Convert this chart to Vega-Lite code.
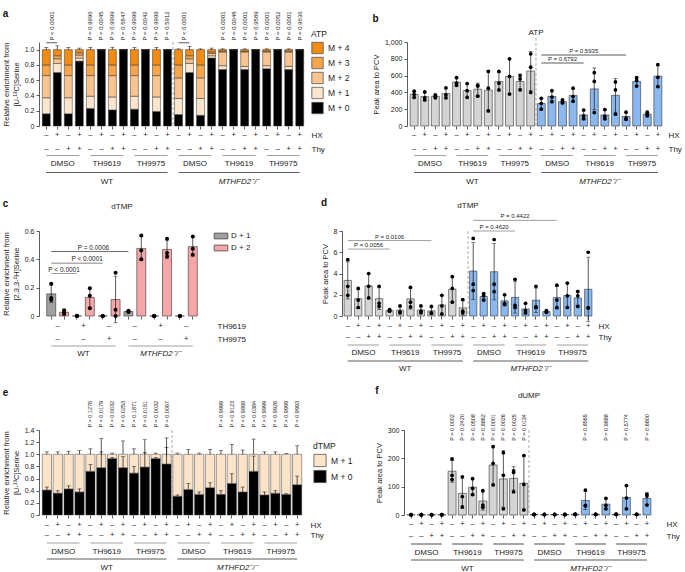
{
"$schema":"https://vega.github.io/schema/vega-lite/v6.json",
"padding":{"left":2,"top":9,"right":0,"bottom":0},
"config":{"font":"Liberation Sans","view":{"stroke":null},
"axis":{"labelFontSize":7,"titleFontSize":7.5,"titleFontWeight":"normal","labelColor":"#222","titleColor":"#222","domainColor":"#333","tickColor":"#333","tickSize":3,"domainWidth":0.8,"tickWidth":0.8,"grid":false,"labelPadding":2,"titlePadding":4,"labelOverlap":false},
"legend":{"labelFontSize":8,"titleFontSize":8,"titleFontWeight":"normal","labelColor":"#222","titleColor":"#222"},
"title":{"fontSize":10,"fontWeight":"bold","color":"#111","anchor":"start","frame":"bounds"},
"text":{"color":"#222"}},
"datasets":{
"c24":[{"c":1,"hx":"–","thy":"–"},{"c":2,"hx":"+","thy":"–"},{"c":3,"hx":"–","thy":"+"},{"c":4,"hx":"+","thy":"+"},{"c":5,"hx":"–","thy":"–"},{"c":6,"hx":"+","thy":"–"},{"c":7,"hx":"–","thy":"+"},{"c":8,"hx":"+","thy":"+"},{"c":9,"hx":"–","thy":"–"},{"c":10,"hx":"+","thy":"–"},{"c":11,"hx":"–","thy":"+"},{"c":12,"hx":"+","thy":"+"},{"c":13,"hx":"–","thy":"–"},{"c":14,"hx":"+","thy":"–"},{"c":15,"hx":"–","thy":"+"},{"c":16,"hx":"+","thy":"+"},{"c":17,"hx":"–","thy":"–"},{"c":18,"hx":"+","thy":"–"},{"c":19,"hx":"–","thy":"+"},{"c":20,"hx":"+","thy":"+"},{"c":21,"hx":"–","thy":"–"},{"c":22,"hx":"+","thy":"–"},{"c":23,"hx":"–","thy":"+"},{"c":24,"hx":"+","thy":"+"}],
"g24":[{"g":"DMSO","s":1,"e":4,"m":2},{"g":"TH9619","s":5,"e":8,"m":6},{"g":"TH9975","s":9,"e":12,"m":10},{"g":"DMSO","s":13,"e":16,"m":14},{"g":"TH9619","s":17,"e":20,"m":18},{"g":"TH9975","s":21,"e":24,"m":22}],
"w24":[{"g":"WT","s":1,"e":12,"m":6},{"g":"MTHFD2⁻/⁻","s":13,"e":24,"m":18}],
"aS":[{"c":1,"m0":0.16,"m1":0.21,"m2":0.29,"m3":0.14,"m4":0.20,"hi":1.03},{"c":2,"m0":0.70,"m1":0.12,"m2":0.06,"m3":0.04,"m4":0.08,"hi":1.05},{"c":3,"m0":0.16,"m1":0.21,"m2":0.29,"m3":0.14,"m4":0.20,"hi":1.03},{"c":4,"m0":0.85,"m1":0.04,"m2":0.04,"m3":0.03,"m4":0.04,"hi":1.02},{"c":5,"m0":0.23,"m1":0.16,"m2":0.27,"m3":0.14,"m4":0.20,"hi":1.03},{"c":6,"m0":1,"m1":0,"m2":0,"m3":0,"m4":0,"hi":null},{"c":7,"m0":0.21,"m1":0.17,"m2":0.28,"m3":0.14,"m4":0.20,"hi":1.03},{"c":8,"m0":1,"m1":0,"m2":0,"m3":0,"m4":0,"hi":null},{"c":9,"m0":0.22,"m1":0.17,"m2":0.27,"m3":0.14,"m4":0.20,"hi":1.03},{"c":10,"m0":1,"m1":0,"m2":0,"m3":0,"m4":0,"hi":null},{"c":11,"m0":0.19,"m1":0.19,"m2":0.28,"m3":0.14,"m4":0.20,"hi":1.03},{"c":12,"m0":1,"m1":0,"m2":0,"m3":0,"m4":0,"hi":null},{"c":13,"m0":0.15,"m1":0.21,"m2":0.27,"m3":0.17,"m4":0.20,"hi":1.01},{"c":14,"m0":0.70,"m1":0.12,"m2":0.06,"m3":0.04,"m4":0.08,"hi":1.04},{"c":15,"m0":0.14,"m1":0.22,"m2":0.27,"m3":0.17,"m4":0.20,"hi":1.01},{"c":16,"m0":0.89,"m1":0.03,"m2":0.03,"m3":0.02,"m4":0.03,"hi":1.02},{"c":17,"m0":0.74,"m1":0.05,"m2":0.18,"m3":0.01,"m4":0.02,"hi":1.01},{"c":18,"m0":1,"m1":0,"m2":0,"m3":0,"m4":0,"hi":null},{"c":19,"m0":0.74,"m1":0.04,"m2":0.19,"m3":0.01,"m4":0.02,"hi":1.01},{"c":20,"m0":1,"m1":0,"m2":0,"m3":0,"m4":0,"hi":null},{"c":21,"m0":0.75,"m1":0.04,"m2":0.18,"m3":0.01,"m4":0.02,"hi":1.01},{"c":22,"m0":1,"m1":0,"m2":0,"m3":0,"m4":0,"hi":null},{"c":23,"m0":0.74,"m1":0.04,"m2":0.19,"m3":0.01,"m4":0.02,"hi":1.01},{"c":24,"m0":1,"m1":0,"m2":0,"m3":0,"m4":0,"hi":null}],
"aPv":[{"c":5,"p":"P = 0.9996"},{"c":6,"p":"P = 0.0045"},{"c":7,"p":"P > 0.9999"},{"c":8,"p":"P = 0.5847"},{"c":9,"p":"P > 0.9999"},{"c":10,"p":"P = 0.0042"},{"c":11,"p":"P > 0.9999"},{"c":12,"p":"P = 0.5912"},{"c":17,"p":"P < 0.0001"},{"c":18,"p":"P = 0.0048"},{"c":19,"p":"P < 0.0001"},{"c":20,"p":"P = 0.9589"},{"c":21,"p":"P < 0.0001"},{"c":22,"p":"P = 0.0052"},{"c":23,"p":"P < 0.0001"},{"c":24,"p":"P = 0.9636"}],
"aBr":[{"c":1,"c2":2,"p":"P < 0.0001"},{"c":13,"c2":14,"p":"P < 0.0001"}],
"bP":[{"c":1,"g":"WT","v":415},{"c":1,"g":"WT","v":375},{"c":1,"g":"WT","v":340},{"c":2,"g":"WT","v":405},{"c":2,"g":"WT","v":335},{"c":2,"g":"WT","v":310},{"c":3,"g":"WT","v":370},{"c":3,"g":"WT","v":355},{"c":3,"g":"WT","v":335},{"c":4,"g":"WT","v":455},{"c":4,"g":"WT","v":370},{"c":4,"g":"WT","v":335},{"c":5,"g":"WT","v":575},{"c":5,"g":"WT","v":510},{"c":5,"g":"WT","v":485},{"c":6,"g":"WT","v":505},{"c":6,"g":"WT","v":420},{"c":6,"g":"WT","v":340},{"c":7,"g":"WT","v":485},{"c":7,"g":"WT","v":475},{"c":7,"g":"WT","v":355},{"c":8,"g":"WT","v":650},{"c":8,"g":"WT","v":450},{"c":8,"g":"WT","v":180},{"c":9,"g":"WT","v":650},{"c":9,"g":"WT","v":510},{"c":9,"g":"WT","v":430},{"c":10,"g":"WT","v":800},{"c":10,"g":"WT","v":590},{"c":10,"g":"WT","v":380},{"c":11,"g":"WT","v":600},{"c":11,"g":"WT","v":560},{"c":11,"g":"WT","v":430},{"c":12,"g":"WT","v":860},{"c":12,"g":"WT","v":700},{"c":12,"g":"WT","v":400},{"c":13,"g":"KO","v":330},{"c":13,"g":"KO","v":270},{"c":13,"g":"KO","v":200},{"c":14,"g":"KO","v":420},{"c":14,"g":"KO","v":345},{"c":14,"g":"KO","v":290},{"c":15,"g":"KO","v":310},{"c":15,"g":"KO","v":285},{"c":15,"g":"KO","v":275},{"c":16,"g":"KO","v":450},{"c":16,"g":"KO","v":350},{"c":16,"g":"KO","v":295},{"c":17,"g":"KO","v":190},{"c":17,"g":"KO","v":120},{"c":17,"g":"KO","v":85},{"c":18,"g":"KO","v":635},{"c":18,"g":"KO","v":530},{"c":18,"g":"KO","v":160},{"c":19,"g":"KO","v":195},{"c":19,"g":"KO","v":115},{"c":19,"g":"KO","v":85},{"c":20,"g":"KO","v":525},{"c":20,"g":"KO","v":430},{"c":20,"g":"KO","v":140},{"c":21,"g":"KO","v":165},{"c":21,"g":"KO","v":95},{"c":21,"g":"KO","v":80},{"c":22,"g":"KO","v":575},{"c":22,"g":"KO","v":540},{"c":22,"g":"KO","v":475},{"c":23,"g":"KO","v":165},{"c":23,"g":"KO","v":140},{"c":23,"g":"KO","v":120},{"c":24,"g":"KO","v":730},{"c":24,"g":"KO","v":580},{"c":24,"g":"KO","v":470}],
"cP":[{"k":"1a","iso":"D + 1","v":0.227},{"k":"1a","iso":"D + 1","v":0.127},{"k":"1a","iso":"D + 1","v":0.115},{"k":"1b","iso":"D + 2","v":0.04},{"k":"1b","iso":"D + 2","v":0.025},{"k":"1b","iso":"D + 2","v":0.015},{"k":"2a","iso":"D + 1","v":0},{"k":"2a","iso":"D + 1","v":0},{"k":"2a","iso":"D + 1","v":0.002},{"k":"2b","iso":"D + 2","v":0.196},{"k":"2b","iso":"D + 2","v":0.143},{"k":"2b","iso":"D + 2","v":0.055},{"k":"3a","iso":"D + 1","v":0},{"k":"3a","iso":"D + 1","v":0},{"k":"3a","iso":"D + 1","v":0},{"k":"3b","iso":"D + 2","v":0.305},{"k":"3b","iso":"D + 2","v":0.045},{"k":"3b","iso":"D + 2","v":0},{"k":"4a","iso":"D + 1","v":0.037},{"k":"4a","iso":"D + 1","v":0.032},{"k":"4a","iso":"D + 1","v":0.028},{"k":"4b","iso":"D + 2","v":0.569},{"k":"4b","iso":"D + 2","v":0.462},{"k":"4b","iso":"D + 2","v":0.40},{"k":"5a","iso":"D + 1","v":0},{"k":"5a","iso":"D + 1","v":0},{"k":"5a","iso":"D + 1","v":0},{"k":"5b","iso":"D + 2","v":0.545},{"k":"5b","iso":"D + 2","v":0.445},{"k":"5b","iso":"D + 2","v":0.42},{"k":"6a","iso":"D + 1","v":0},{"k":"6a","iso":"D + 1","v":0},{"k":"6a","iso":"D + 1","v":0},{"k":"6b","iso":"D + 2","v":0.562},{"k":"6b","iso":"D + 2","v":0.474},{"k":"6b","iso":"D + 2","v":0.433}],
"cAn":[{"k":"1a","t1":"–","t2":"–"},{"k":"2a","t1":"+","t2":"–"},{"k":"3a","t1":"–","t2":"+"},{"k":"4a","t1":"–","t2":"–"},{"k":"5a","t1":"+","t2":"–"},{"k":"6a","t1":"–","t2":"+"}],
"cW":[{"g":"WT","s":"1a","e":"3b","m":"2a"},{"g":"MTHFD2⁻/⁻","s":"4a","e":"6b","m":"5a"}],
"dP":[{"c":1,"g":"WT","v":5.3},{"c":1,"g":"WT","v":2.8},{"c":1,"g":"WT","v":1.95},{"c":2,"g":"WT","v":2.6},{"c":2,"g":"WT","v":1.5},{"c":2,"g":"WT","v":0.8},{"c":3,"g":"WT","v":4.0},{"c":3,"g":"WT","v":2.8},{"c":3,"g":"WT","v":1.7},{"c":4,"g":"WT","v":2.8},{"c":4,"g":"WT","v":1.2},{"c":4,"g":"WT","v":0.9},{"c":5,"g":"WT","v":0.6},{"c":5,"g":"WT","v":0.5},{"c":5,"g":"WT","v":0.45},{"c":6,"g":"WT","v":0.95},{"c":6,"g":"WT","v":0.4},{"c":6,"g":"WT","v":0.3},{"c":7,"g":"WT","v":2.7},{"c":7,"g":"WT","v":1.3},{"c":7,"g":"WT","v":0.85},{"c":8,"g":"WT","v":0.95},{"c":8,"g":"WT","v":0.45},{"c":8,"g":"WT","v":0.3},{"c":9,"g":"WT","v":0.9},{"c":9,"g":"WT","v":0.3},{"c":9,"g":"WT","v":0.25},{"c":10,"g":"WT","v":1.95},{"c":10,"g":"WT","v":0.95},{"c":10,"g":"WT","v":0.2},{"c":11,"g":"WT","v":3.7},{"c":11,"g":"WT","v":2.6},{"c":11,"g":"WT","v":1.3},{"c":12,"g":"WT","v":1.55},{"c":12,"g":"WT","v":0.45},{"c":12,"g":"WT","v":0.3},{"c":13,"g":"KO","v":7.3},{"c":13,"g":"KO","v":3.0},{"c":13,"g":"KO","v":2.4},{"c":14,"g":"KO","v":2.1},{"c":14,"g":"KO","v":1.9},{"c":14,"g":"KO","v":1.5},{"c":15,"g":"KO","v":7.2},{"c":15,"g":"KO","v":3.0},{"c":15,"g":"KO","v":2.3},{"c":16,"g":"KO","v":2.0},{"c":16,"g":"KO","v":1.2},{"c":16,"g":"KO","v":1.1},{"c":17,"g":"KO","v":3.45},{"c":17,"g":"KO","v":1.0},{"c":17,"g":"KO","v":0.8},{"c":18,"g":"KO","v":1.2},{"c":18,"g":"KO","v":0.5},{"c":18,"g":"KO","v":0.3},{"c":19,"g":"KO","v":2.8},{"c":19,"g":"KO","v":0.85},{"c":19,"g":"KO","v":0.8},{"c":20,"g":"KO","v":0.5},{"c":20,"g":"KO","v":0.4},{"c":20,"g":"KO","v":0.35},{"c":21,"g":"KO","v":2.9},{"c":21,"g":"KO","v":1.5},{"c":21,"g":"KO","v":0.8},{"c":22,"g":"KO","v":3.1},{"c":22,"g":"KO","v":1.9},{"c":22,"g":"KO","v":0.8},{"c":23,"g":"KO","v":2.3},{"c":23,"g":"KO","v":1.9},{"c":23,"g":"KO","v":0.9},{"c":24,"g":"KO","v":6.0},{"c":24,"g":"KO","v":0.8},{"c":24,"g":"KO","v":0.75}],
"eS":[{"c":1,"m0":0.41,"m1":0.59,"h0":0.46,"hi":1.04},{"c":2,"m0":0.36,"m1":0.64,"h0":0.40,"hi":1.04},{"c":3,"m0":0.43,"m1":0.57,"h0":0.48,"hi":1.05},{"c":4,"m0":0.38,"m1":0.62,"h0":0.43,"hi":1.06},{"c":5,"m0":0.72,"m1":0.28,"h0":0.83,"hi":1.09},{"c":6,"m0":0.78,"m1":0.22,"h0":1.04,"hi":1.26},{"c":7,"m0":0.93,"m1":0.07,"h0":0.95,"hi":1.02},{"c":8,"m0":0.78,"m1":0.22,"h0":0.96,"hi":1.22},{"c":9,"m0":0.69,"m1":0.31,"h0":0.80,"hi":1.09},{"c":10,"m0":0.79,"m1":0.21,"h0":1.03,"hi":1.24},{"c":11,"m0":0.93,"m1":0.07,"h0":0.95,"hi":1.02},{"c":12,"m0":0.84,"m1":0.16,"h0":1.11,"hi":1.27},{"c":13,"m0":0.31,"m1":0.69,"h0":0.33,"hi":1.02},{"c":14,"m0":0.42,"m1":0.58,"h0":0.52,"hi":1.08},{"c":15,"m0":0.34,"m1":0.66,"h0":0.38,"hi":1.02},{"c":16,"m0":0.45,"m1":0.55,"h0":0.53,"hi":1.08},{"c":17,"m0":0.34,"m1":0.66,"h0":0.40,"hi":1.06},{"c":18,"m0":0.52,"m1":0.48,"h0":0.68,"hi":1.16},{"c":19,"m0":0.38,"m1":0.62,"h0":0.46,"hi":1.07},{"c":20,"m0":0.72,"m1":0.28,"h0":0.97,"hi":1.25},{"c":21,"m0":0.33,"m1":0.67,"h0":0.38,"hi":1.04},{"c":22,"m0":0.36,"m1":0.64,"h0":0.40,"hi":1.04},{"c":23,"m0":0.34,"m1":0.66,"h0":0.35,"hi":1.01},{"c":24,"m0":0.50,"m1":0.50,"h0":0.64,"hi":1.14}],
"ePv":[{"c":5,"p":"P = 0.1276"},{"c":6,"p":"P = 0.0179"},{"c":7,"p":"P = 0.0032"},{"c":8,"p":"P = 0.0253"},{"c":9,"p":"P = 0.1871"},{"c":10,"p":"P = 0.0151"},{"c":11,"p":"P = 0.0032"},{"c":12,"p":"P = 0.0067"},{"c":17,"p":"P > 0.9999"},{"c":18,"p":"P = 0.9123"},{"c":19,"p":"P = 0.9898"},{"c":20,"p":"P = 0.0384"},{"c":21,"p":"P > 0.9999"},{"c":22,"p":"P = 0.9926"},{"c":23,"p":"P > 0.9999"},{"c":24,"p":"P = 0.9993"}],
"fP":[{"c":1,"g":"WT","v":1.2},{"c":1,"g":"WT","v":0.8},{"c":1,"g":"WT","v":1.0},{"c":2,"g":"WT","v":1.0},{"c":2,"g":"WT","v":0.9},{"c":2,"g":"WT","v":1.1},{"c":3,"g":"WT","v":1.3},{"c":3,"g":"WT","v":0.7},{"c":3,"g":"WT","v":1.0},{"c":4,"g":"WT","v":1.1},{"c":4,"g":"WT","v":1.0},{"c":4,"g":"WT","v":0.9},{"c":5,"g":"WT","v":198},{"c":5,"g":"WT","v":140},{"c":5,"g":"WT","v":125},{"c":6,"g":"WT","v":135},{"c":6,"g":"WT","v":65},{"c":6,"g":"WT","v":29},{"c":7,"g":"WT","v":128},{"c":7,"g":"WT","v":94},{"c":7,"g":"WT","v":72},{"c":8,"g":"WT","v":86},{"c":8,"g":"WT","v":35},{"c":8,"g":"WT","v":27},{"c":9,"g":"WT","v":241},{"c":9,"g":"WT","v":182},{"c":9,"g":"WT","v":106},{"c":10,"g":"WT","v":220},{"c":10,"g":"WT","v":140},{"c":10,"g":"WT","v":22},{"c":11,"g":"WT","v":156},{"c":11,"g":"WT","v":150},{"c":11,"g":"WT","v":82},{"c":12,"g":"WT","v":210},{"c":12,"g":"WT","v":108},{"c":12,"g":"WT","v":18},{"c":13,"g":"KO","v":2.0},{"c":13,"g":"KO","v":1.5},{"c":13,"g":"KO","v":1.8},{"c":14,"g":"KO","v":1.5},{"c":14,"g":"KO","v":1.8},{"c":14,"g":"KO","v":2.0},{"c":15,"g":"KO","v":1.6},{"c":15,"g":"KO","v":1.9},{"c":15,"g":"KO","v":2.1},{"c":16,"g":"KO","v":1.7},{"c":16,"g":"KO","v":2.0},{"c":16,"g":"KO","v":1.8},{"c":17,"g":"KO","v":2.5},{"c":17,"g":"KO","v":2.0},{"c":17,"g":"KO","v":3.0},{"c":18,"g":"KO","v":88},{"c":18,"g":"KO","v":34},{"c":18,"g":"KO","v":32},{"c":19,"g":"KO","v":2.0},{"c":19,"g":"KO","v":2.6},{"c":19,"g":"KO","v":2.2},{"c":20,"g":"KO","v":59},{"c":20,"g":"KO","v":34},{"c":20,"g":"KO","v":22},{"c":21,"g":"KO","v":2.4},{"c":21,"g":"KO","v":2.0},{"c":21,"g":"KO","v":2.8},{"c":22,"g":"KO","v":104},{"c":22,"g":"KO","v":60},{"c":22,"g":"KO","v":22},{"c":23,"g":"KO","v":2.1},{"c":23,"g":"KO","v":2.5},{"c":23,"g":"KO","v":2.3},{"c":24,"g":"KO","v":73},{"c":24,"g":"KO","v":67},{"c":24,"g":"KO","v":35}],
"fPv":[{"c":5,"p":"P = 0.0002"},{"c":6,"p":"P = 0.2420"},{"c":7,"p":"P = 0.0508"},{"c":8,"p":"P = 0.8862"},{"c":9,"p":"P < 0.0001"},{"c":10,"p":"P = 0.0026"},{"c":11,"p":"P = 0.0025"},{"c":12,"p":"P = 0.0134"},{"c":18,"p":"P = 0.8565"},{"c":20,"p":"P = 0.9888"},{"c":22,"p":"P = 0.5774"},{"c":24,"p":"P = 0.6800"}]
},
"spacing":12,
"resolve":{"scale":{"color":"independent"},"legend":{"color":"independent"}},
"vconcat":[
{"columns":2,"bounds":"flush","spacing":{"row":2,"column":100},"resolve":{"scale":{"color":"independent"},"legend":{"color":"independent"}},
"concat":[
  {"width":268,"height":84,"title":{"text":"a","offset":-8},
   "encoding":{"x":{"field":"c","type":"ordinal","scale":{"type":"band","domain":[1,2,3,4,5,6,7,8,9,10,11,12,13,14,15,16,17,18,19,20,21,22,23,24],"paddingInner":0.28,"paddingOuter":0.3},"axis":{"labels":false,"domain":false,"ticks":true,"title":null}}},
   "layer":[
   {"data":{"name":"aS"},"transform":[{"fold":["m0","m1","m2","m3","m4"],"as":["k","v"]}],
    "mark":{"type":"bar","stroke":"#333","strokeWidth":0.5},
    "encoding":{
     "y":{"field":"v","type":"quantitative","stack":"zero","scale":{"domain":[0,1.1],"nice":false},"axis":{"values":[0,0.2,0.4,0.6,0.8,1],"labelExpr":"datum.value == 0 ? '0' : format(datum.value, '.1f')","title":["Relative enrichment from","[U-¹³C]Serine"]}},
     "color":{"field":"k","type":"nominal","scale":{"domain":["m4","m3","m2","m1","m0"],"range":["#f28b12","#f6a54b","#f9c48f","#fde4cd","#000000"]},"legend":{"title":"ATP","orient":"none","legendX":272,"legendY":-12,"labelExpr":"'M + ' + substring(datum.label, 1)","symbolType":"square","symbolSize":130,"symbolStrokeColor":"#555","symbolStrokeWidth":0.8,"symbolOpacity":1,"rowPadding":0,"labelFontSize":8.5,"titleFontSize":8.5,"titlePadding":3}},
     "order":{"field":"k","sort":"ascending"}}},
   {"data":{"name":"aS"},"transform":[{"filter":"datum.hi != null"}],"mark":{"type":"rule","color":"#111","strokeWidth":0.7},
    "encoding":{"y":{"field":"hi","type":"quantitative","axis":{"values":[0,0.2,0.4,0.6,0.8,1],"labelExpr":"datum.value == 0 ? '0' : format(datum.value, '.1f')","title":["Relative enrichment from","[U-¹³C]Serine"]}},"y2":{"datum":1}}},
   {"data":{"name":"aS"},"transform":[{"filter":"datum.hi != null"}],"mark":{"type":"tick","color":"#111","thickness":0.7,"size":4},
    "encoding":{"y":{"field":"hi","type":"quantitative","axis":{"values":[0,0.2,0.4,0.6,0.8,1],"labelExpr":"datum.value == 0 ? '0' : format(datum.value, '.1f')","title":["Relative enrichment from","[U-¹³C]Serine"]}}}},
   {"data":{"name":"aPv"},"mark":{"type":"text","angle":270,"align":"left","baseline":"middle","fontSize":6},
    "encoding":{"y":{"datum":1.12,"axis":{"values":[0,0.2,0.4,0.6,0.8,1],"labelExpr":"datum.value == 0 ? '0' : format(datum.value, '.1f')","title":["Relative enrichment from","[U-¹³C]Serine"]}},"text":{"field":"p"}}},
   {"data":{"name":"aBr"},"mark":{"type":"rule","color":"#333","strokeWidth":0.8},
    "encoding":{"x2":{"field":"c2"},"y":{"datum":1.09,"axis":{"values":[0,0.2,0.4,0.6,0.8,1],"labelExpr":"datum.value == 0 ? '0' : format(datum.value, '.1f')","title":["Relative enrichment from","[U-¹³C]Serine"]}}}},
   {"data":{"name":"aBr"},"mark":{"type":"text","angle":270,"align":"left","baseline":"middle","fontSize":6},
    "encoding":{"x":{"field":"c","type":"ordinal","scale":{"type":"band","domain":[1,2,3,4,5,6,7,8,9,10,11,12,13,14,15,16,17,18,19,20,21,22,23,24],"paddingInner":0.28,"paddingOuter":0.3},"bandPosition":1.19,"axis":{"labels":false,"domain":false,"ticks":true,"title":null}},"y":{"datum":1.12,"axis":{"values":[0,0.2,0.4,0.6,0.8,1],"labelExpr":"datum.value == 0 ? '0' : format(datum.value, '.1f')","title":["Relative enrichment from","[U-¹³C]Serine"]}},"text":{"field":"p"}}},
   {"data":{"values":[{"c":13}]},"mark":{"type":"rule","strokeDash":[3,2],"color":"#888","strokeWidth":0.7},
    "encoding":{"x":{"field":"c","type":"ordinal","scale":{"type":"band","domain":[1,2,3,4,5,6,7,8,9,10,11,12,13,14,15,16,17,18,19,20,21,22,23,24],"paddingInner":0.28,"paddingOuter":0.3},"bandPosition":-0.19,"axis":{"labels":false,"domain":false,"ticks":true,"title":null}},"y":{"datum":1.1,"axis":{"values":[0,0.2,0.4,0.6,0.8,1],"labelExpr":"datum.value == 0 ? '0' : format(datum.value, '.1f')","title":["Relative enrichment from","[U-¹³C]Serine"]}},"y2":{"datum":0}}}
  ]},
  {"width":258,"height":84,"title":{"text":"b","offset":5},
   "encoding":{"x":{"field":"c","type":"ordinal","scale":{"type":"band","domain":[1,2,3,4,5,6,7,8,9,10,11,12,13,14,15,16,17,18,19,20,21,22,23,24],"paddingInner":0.25,"paddingOuter":0.3},"axis":{"labels":false,"domain":false,"ticks":true,"title":null}}},
   "layer":[
   {"data":{"name":"bP"},"mark":{"type":"bar","stroke":"#333","strokeWidth":0.6},
    "encoding":{
     "y":{"aggregate":"mean","field":"v","type":"quantitative","scale":{"domain":[0,1000],"nice":false},"axis":{"values":[0,200,400,600,800,1000],"labelExpr":"format(datum.value, ',')","title":"Peak area to PCV"}},
     "color":{"field":"g","type":"nominal","scale":{"domain":["WT","KO"],"range":["#d4d4d4","#8ab8ef"]},"legend":null}}},
   {"data":{"name":"bP"},"mark":{"type":"errorbar","extent":"stdev","ticks":{"size":4},"color":"#111","thickness":0.7},
    "encoding":{"y":{"field":"v","type":"quantitative","axis":{"values":[0,200,400,600,800,1000],"labelExpr":"format(datum.value, ',')","title":"Peak area to PCV"}}}},
   {"data":{"name":"bP"},"mark":{"type":"circle","size":14,"color":"#000","opacity":1},
    "encoding":{"y":{"field":"v","type":"quantitative","axis":{"values":[0,200,400,600,800,1000],"labelExpr":"format(datum.value, ',')","title":"Peak area to PCV"}}}},
   {"data":{"values":[{"c":13,"c2":17,"m":15,"p":"P = 0.6792"}]},"encoding":{"y":{"datum":750,"axis":{"values":[0,200,400,600,800,1000],"labelExpr":"format(datum.value, ',')","title":"Peak area to PCV"}}},"layer":[
     {"mark":{"type":"rule","color":"#333","strokeWidth":0.8},"encoding":{"x2":{"field":"c2"}}},
     {"mark":{"type":"text","baseline":"bottom","dy":-1,"fontSize":6},"encoding":{"x":{"field":"m","type":"ordinal","scale":{"type":"band","domain":[1,2,3,4,5,6,7,8,9,10,11,12,13,14,15,16,17,18,19,20,21,22,23,24],"paddingInner":0.25,"paddingOuter":0.3},"axis":{"labels":false,"domain":false,"ticks":true,"title":null}},"text":{"field":"p"}}}]},
   {"data":{"values":[{"c":13,"c2":21,"m":17,"p":"P = 0.5935"}]},"encoding":{"y":{"datum":845,"axis":{"values":[0,200,400,600,800,1000],"labelExpr":"format(datum.value, ',')","title":"Peak area to PCV"}}},"layer":[
     {"mark":{"type":"rule","color":"#333","strokeWidth":0.8},"encoding":{"x2":{"field":"c2"}}},
     {"mark":{"type":"text","baseline":"bottom","dy":-1,"fontSize":6},"encoding":{"x":{"field":"m","type":"ordinal","scale":{"type":"band","domain":[1,2,3,4,5,6,7,8,9,10,11,12,13,14,15,16,17,18,19,20,21,22,23,24],"paddingInner":0.25,"paddingOuter":0.3},"axis":{"labels":false,"domain":false,"ticks":true,"title":null}},"text":{"field":"p"}}}]},
   {"data":{"values":[{"c":12,"t":"ATP"}]},"mark":{"type":"text","fontSize":8},
    "encoding":{"x":{"field":"c","type":"ordinal","scale":{"type":"band","domain":[1,2,3,4,5,6,7,8,9,10,11,12,13,14,15,16,17,18,19,20,21,22,23,24],"paddingInner":0.25,"paddingOuter":0.3},"bandPosition":1.17,"axis":{"labels":false,"domain":false,"ticks":true,"title":null}},"y":{"datum":1110,"axis":{"values":[0,200,400,600,800,1000],"labelExpr":"format(datum.value, ',')","title":"Peak area to PCV"}},"text":{"field":"t"}}},
   {"data":{"values":[{"c":13}]},"mark":{"type":"rule","strokeDash":[3,2],"color":"#888","strokeWidth":0.7},
    "encoding":{"x":{"field":"c","type":"ordinal","scale":{"type":"band","domain":[1,2,3,4,5,6,7,8,9,10,11,12,13,14,15,16,17,18,19,20,21,22,23,24],"paddingInner":0.25,"paddingOuter":0.3},"bandPosition":-0.17,"axis":{"labels":false,"domain":false,"ticks":true,"title":null}},"y":{"datum":1050,"axis":{"values":[0,200,400,600,800,1000],"labelExpr":"format(datum.value, ',')","title":"Peak area to PCV"}},"y2":{"datum":0}}}
  ]},
  {"width":268,"height":58,"layer":[
   {"data":{"name":"c24"},"mark":{"type":"text","fontSize":7.5},"encoding":{"x":{"field":"c","type":"ordinal","scale":{"type":"band","domain":[1,2,3,4,5,6,7,8,9,10,11,12,13,14,15,16,17,18,19,20,21,22,23,24],"paddingInner":0.28,"paddingOuter":0.3},"axis":null},"y":{"datum":7,"type":"quantitative","scale":{"domain":[0,58],"reverse":true,"nice":false,"zero":false},"axis":{"orient":"right","values":[7,21],"labelExpr":"datum.value < 10 ? 'HX' : 'Thy'","domain":false,"ticks":false,"title":null,"labelFontSize":8,"labelPadding":4}},"text":{"field":"hx"}}},
   {"data":{"name":"c24"},"mark":{"type":"text","fontSize":7.5},"encoding":{"x":{"field":"c","type":"ordinal","scale":{"type":"band","domain":[1,2,3,4,5,6,7,8,9,10,11,12,13,14,15,16,17,18,19,20,21,22,23,24],"paddingInner":0.28,"paddingOuter":0.3},"axis":null},"y":{"datum":21},"text":{"field":"thy"}}},
   {"data":{"name":"g24"},"mark":{"type":"rule","color":"#888","strokeWidth":0.8},"encoding":{"x":{"field":"s","type":"ordinal","scale":{"type":"band","domain":[1,2,3,4,5,6,7,8,9,10,11,12,13,14,15,16,17,18,19,20,21,22,23,24],"paddingInner":0.28,"paddingOuter":0.3},"axis":null},"x2":{"field":"e"},"y":{"datum":27.5}}},
   {"data":{"name":"g24"},"mark":{"type":"text","fontSize":8},"encoding":{"x":{"field":"m","type":"ordinal","scale":{"type":"band","domain":[1,2,3,4,5,6,7,8,9,10,11,12,13,14,15,16,17,18,19,20,21,22,23,24],"paddingInner":0.28,"paddingOuter":0.3},"bandPosition":1.19,"axis":null},"y":{"datum":36},"text":{"field":"g"}}},
   {"data":{"name":"w24"},"mark":{"type":"rule","color":"#333","strokeWidth":0.8},"encoding":{"x":{"field":"s","type":"ordinal","scale":{"type":"band","domain":[1,2,3,4,5,6,7,8,9,10,11,12,13,14,15,16,17,18,19,20,21,22,23,24],"paddingInner":0.28,"paddingOuter":0.3},"axis":null},"x2":{"field":"e"},"y":{"datum":44.5}}},
   {"data":{"name":"w24"},"transform":[{"filter":"datum.g == 'WT'"}],"mark":{"type":"text","fontSize":8},"encoding":{"x":{"field":"m","type":"ordinal","scale":{"type":"band","domain":[1,2,3,4,5,6,7,8,9,10,11,12,13,14,15,16,17,18,19,20,21,22,23,24],"paddingInner":0.28,"paddingOuter":0.3},"bandPosition":1.19,"axis":null},"y":{"datum":54},"text":{"field":"g"}}},
   {"data":{"name":"w24"},"transform":[{"filter":"datum.g != 'WT'"}],"mark":{"type":"text","fontSize":8,"fontStyle":"italic"},"encoding":{"x":{"field":"m","type":"ordinal","scale":{"type":"band","domain":[1,2,3,4,5,6,7,8,9,10,11,12,13,14,15,16,17,18,19,20,21,22,23,24],"paddingInner":0.28,"paddingOuter":0.3},"bandPosition":1.19,"axis":null},"y":{"datum":54},"text":{"field":"g"}}}
  ]},
  {"width":258,"height":58,"layer":[
   {"data":{"name":"c24"},"mark":{"type":"text","fontSize":7.5},"encoding":{"x":{"field":"c","type":"ordinal","scale":{"type":"band","domain":[1,2,3,4,5,6,7,8,9,10,11,12,13,14,15,16,17,18,19,20,21,22,23,24],"paddingInner":0.25,"paddingOuter":0.3},"axis":null},"y":{"datum":7,"type":"quantitative","scale":{"domain":[0,58],"reverse":true,"nice":false,"zero":false},"axis":{"orient":"right","values":[7,21],"labelExpr":"datum.value < 10 ? 'HX' : 'Thy'","domain":false,"ticks":false,"title":null,"labelFontSize":8,"labelPadding":3}},"text":{"field":"hx"}}},
   {"data":{"name":"c24"},"mark":{"type":"text","fontSize":7.5},"encoding":{"x":{"field":"c","type":"ordinal","scale":{"type":"band","domain":[1,2,3,4,5,6,7,8,9,10,11,12,13,14,15,16,17,18,19,20,21,22,23,24],"paddingInner":0.25,"paddingOuter":0.3},"axis":null},"y":{"datum":21},"text":{"field":"thy"}}},
   {"data":{"name":"g24"},"mark":{"type":"rule","color":"#888","strokeWidth":0.8},"encoding":{"x":{"field":"s","type":"ordinal","scale":{"type":"band","domain":[1,2,3,4,5,6,7,8,9,10,11,12,13,14,15,16,17,18,19,20,21,22,23,24],"paddingInner":0.25,"paddingOuter":0.3},"axis":null},"x2":{"field":"e"},"y":{"datum":27.5}}},
   {"data":{"name":"g24"},"mark":{"type":"text","fontSize":8},"encoding":{"x":{"field":"m","type":"ordinal","scale":{"type":"band","domain":[1,2,3,4,5,6,7,8,9,10,11,12,13,14,15,16,17,18,19,20,21,22,23,24],"paddingInner":0.25,"paddingOuter":0.3},"bandPosition":1.17,"axis":null},"y":{"datum":36},"text":{"field":"g"}}},
   {"data":{"name":"w24"},"mark":{"type":"rule","color":"#333","strokeWidth":0.8},"encoding":{"x":{"field":"s","type":"ordinal","scale":{"type":"band","domain":[1,2,3,4,5,6,7,8,9,10,11,12,13,14,15,16,17,18,19,20,21,22,23,24],"paddingInner":0.25,"paddingOuter":0.3},"axis":null},"x2":{"field":"e"},"y":{"datum":44.5}}},
   {"data":{"name":"w24"},"transform":[{"filter":"datum.g == 'WT'"}],"mark":{"type":"text","fontSize":8},"encoding":{"x":{"field":"m","type":"ordinal","scale":{"type":"band","domain":[1,2,3,4,5,6,7,8,9,10,11,12,13,14,15,16,17,18,19,20,21,22,23,24],"paddingInner":0.25,"paddingOuter":0.3},"bandPosition":1.17,"axis":null},"y":{"datum":54},"text":{"field":"g"}}},
   {"data":{"name":"w24"},"transform":[{"filter":"datum.g != 'WT'"}],"mark":{"type":"text","fontSize":8,"fontStyle":"italic"},"encoding":{"x":{"field":"m","type":"ordinal","scale":{"type":"band","domain":[1,2,3,4,5,6,7,8,9,10,11,12,13,14,15,16,17,18,19,20,21,22,23,24],"paddingInner":0.25,"paddingOuter":0.3},"bandPosition":1.17,"axis":null},"y":{"datum":54},"text":{"field":"g"}}}
  ]}
]},
{"columns":2,"bounds":"flush","spacing":{"row":2,"column":137},"resolve":{"scale":{"color":"independent"},"legend":{"color":"independent"}},
"concat":[
  {"width":166,"height":85,"title":{"text":"c","offset":-6},
   "encoding":{"x":{"field":"k","type":"ordinal","scale":{"type":"band","domain":["1a","1b","2a","2b","3a","3b","4a","4b","5a","5b","6a","6b"],"paddingInner":0.3,"paddingOuter":0.6},"axis":{"labels":false,"domain":false,"ticks":true,"title":null}}},
   "layer":[
   {"data":{"name":"cP"},"mark":{"type":"bar","stroke":"#333","strokeWidth":0.6},
    "encoding":{
     "y":{"aggregate":"mean","field":"v","type":"quantitative","scale":{"domain":[0,0.6],"nice":false},"axis":{"values":[0,0.2,0.4,0.6],"labelExpr":"datum.value == 0 ? '0' : format(datum.value, '.1f')","title":["Relative enrichment from","[2,3,3-²H]Serine"]}},
     "color":{"field":"iso","type":"nominal","scale":{"domain":["D + 1","D + 2"],"range":["#a0a0a0","#f5a6a6"]},"legend":{"title":null,"orient":"none","legendX":176,"legendY":-1,"symbolType":"M-1.3,-0.55H1.3V0.55H-1.3Z","symbolSize":110,"symbolStrokeColor":"#444","symbolStrokeWidth":0.8,"symbolOpacity":1,"labelFontSize":8,"rowPadding":1}}}},
   {"data":{"name":"cP"},"mark":{"type":"errorbar","extent":"stdev","ticks":{"size":4},"color":"#111","thickness":0.7},
    "encoding":{"y":{"field":"v","type":"quantitative","axis":{"values":[0,0.2,0.4,0.6],"labelExpr":"datum.value == 0 ? '0' : format(datum.value, '.1f')","title":["Relative enrichment from","[2,3,3-²H]Serine"]}}}},
   {"data":{"name":"cP"},"mark":{"type":"circle","size":16,"color":"#000","opacity":1},
    "encoding":{"y":{"field":"v","type":"quantitative","axis":{"values":[0,0.2,0.4,0.6],"labelExpr":"datum.value == 0 ? '0' : format(datum.value, '.1f')","title":["Relative enrichment from","[2,3,3-²H]Serine"]}}}},
   {"data":{"values":[{"k":"1a","e":"2a","m":"1b","p":"P < 0.0001"}]},"encoding":{"y":{"datum":0.3,"axis":{"values":[0,0.2,0.4,0.6],"labelExpr":"datum.value == 0 ? '0' : format(datum.value, '.1f')","title":["Relative enrichment from","[2,3,3-²H]Serine"]}}},"layer":[
     {"mark":{"type":"rule","color":"#888","strokeWidth":0.8},"encoding":{"x2":{"field":"e"}}},
     {"mark":{"type":"text","baseline":"bottom","dy":-1,"fontSize":6.5},"encoding":{"x":{"field":"m","type":"ordinal","scale":{"type":"band","domain":["1a","1b","2a","2b","3a","3b","4a","4b","5a","5b","6a","6b"],"paddingInner":0.3,"paddingOuter":0.6},"axis":{"labels":false,"domain":false,"ticks":true,"title":null}},"text":{"field":"p"}}}]},
   {"data":{"values":[{"k":"1a","e":"3a","m":"2b","p":"P < 0.0001"}]},"encoding":{"y":{"datum":0.373,"axis":{"values":[0,0.2,0.4,0.6],"labelExpr":"datum.value == 0 ? '0' : format(datum.value, '.1f')","title":["Relative enrichment from","[2,3,3-²H]Serine"]}}},"layer":[
     {"mark":{"type":"rule","color":"#666","strokeWidth":0.8},"encoding":{"x2":{"field":"e"}}},
     {"mark":{"type":"text","baseline":"bottom","dy":-1,"fontSize":6.5},"encoding":{"x":{"field":"m","type":"ordinal","scale":{"type":"band","domain":["1a","1b","2a","2b","3a","3b","4a","4b","5a","5b","6a","6b"],"paddingInner":0.3,"paddingOuter":0.6},"bandPosition":0.2,"axis":{"labels":false,"domain":false,"ticks":true,"title":null}},"text":{"field":"p"}}}]},
   {"data":{"values":[{"k":"1a","e":"4a","m":"2b","p":"P = 0.0006"}]},"encoding":{"y":{"datum":0.455,"axis":{"values":[0,0.2,0.4,0.6],"labelExpr":"datum.value == 0 ? '0' : format(datum.value, '.1f')","title":["Relative enrichment from","[2,3,3-²H]Serine"]}}},"layer":[
     {"mark":{"type":"rule","color":"#444","strokeWidth":0.8},"encoding":{"x2":{"field":"e"}}},
     {"mark":{"type":"text","baseline":"bottom","dy":-1,"fontSize":6.5},"encoding":{"x":{"field":"m","type":"ordinal","scale":{"type":"band","domain":["1a","1b","2a","2b","3a","3b","4a","4b","5a","5b","6a","6b"],"paddingInner":0.3,"paddingOuter":0.6},"bandPosition":0.9,"axis":{"labels":false,"domain":false,"ticks":true,"title":null}},"text":{"field":"p"}}}]},
   {"data":{"values":[{"k":"3b","t":"dTMP"}]},"mark":{"type":"text","fontSize":8},
    "encoding":{"x":{"field":"k","type":"ordinal","scale":{"type":"band","domain":["1a","1b","2a","2b","3a","3b","4a","4b","5a","5b","6a","6b"],"paddingInner":0.3,"paddingOuter":0.6},"bandPosition":1.21,"axis":{"labels":false,"domain":false,"ticks":true,"title":null}},"y":{"datum":0.77,"axis":{"values":[0,0.2,0.4,0.6],"labelExpr":"datum.value == 0 ? '0' : format(datum.value, '.1f')","title":["Relative enrichment from","[2,3,3-²H]Serine"]}},"text":{"field":"t"}}}
  ]},
  {"width":252,"height":85,"title":{"text":"d","offset":-6},
   "encoding":{"x":{"field":"c","type":"ordinal","scale":{"type":"band","domain":[1,2,3,4,5,6,7,8,9,10,11,12,13,14,15,16,17,18,19,20,21,22,23,24],"paddingInner":0.3,"paddingOuter":0.2},"axis":{"labels":false,"domain":false,"ticks":true,"title":null}}},
   "layer":[
   {"data":{"name":"dP"},"mark":{"type":"bar","stroke":"#333","strokeWidth":0.6},
    "encoding":{
     "y":{"aggregate":"mean","field":"v","type":"quantitative","scale":{"domain":[0,8],"nice":false},"axis":{"values":[0,2,4,6,8],"title":"Peak area to PCV"}},
     "color":{"field":"g","type":"nominal","scale":{"domain":["WT","KO"],"range":["#d4d4d4","#8ab8ef"]},"legend":null}}},
   {"data":{"name":"dP"},"mark":{"type":"errorbar","extent":"stdev","ticks":{"size":4},"color":"#111","thickness":0.7},
    "encoding":{"y":{"field":"v","type":"quantitative","axis":{"values":[0,2,4,6,8],"title":"Peak area to PCV"}}}},
   {"data":{"name":"dP"},"mark":{"type":"circle","size":14,"color":"#000","opacity":1},
    "encoding":{"y":{"field":"v","type":"quantitative","axis":{"values":[0,2,4,6,8],"title":"Peak area to PCV"}}}},
   {"data":{"values":[{"c":1,"c2":5,"m":3,"p":"P = 0.0056"}]},"encoding":{"y":{"datum":6.3,"axis":{"values":[0,2,4,6,8],"title":"Peak area to PCV"}}},"layer":[
     {"mark":{"type":"rule","color":"#888","strokeWidth":0.8},"encoding":{"x2":{"field":"c2"}}},
     {"mark":{"type":"text","baseline":"bottom","dy":-1,"fontSize":6},"encoding":{"x":{"field":"m","type":"ordinal","scale":{"type":"band","domain":[1,2,3,4,5,6,7,8,9,10,11,12,13,14,15,16,17,18,19,20,21,22,23,24],"paddingInner":0.3,"paddingOuter":0.2},"axis":{"labels":false,"domain":false,"ticks":true,"title":null}},"text":{"field":"p"}}}]},
   {"data":{"values":[{"c":1,"c2":9,"m":5,"p":"P = 0.0106"}]},"encoding":{"y":{"datum":7.1,"axis":{"values":[0,2,4,6,8],"title":"Peak area to PCV"}}},"layer":[
     {"mark":{"type":"rule","color":"#888","strokeWidth":0.8},"encoding":{"x2":{"field":"c2"}}},
     {"mark":{"type":"text","baseline":"bottom","dy":-1,"fontSize":6},"encoding":{"x":{"field":"m","type":"ordinal","scale":{"type":"band","domain":[1,2,3,4,5,6,7,8,9,10,11,12,13,14,15,16,17,18,19,20,21,22,23,24],"paddingInner":0.3,"paddingOuter":0.2},"axis":{"labels":false,"domain":false,"ticks":true,"title":null}},"text":{"field":"p"}}}]},
   {"data":{"values":[{"c":13,"c2":17,"m":15,"p":"P = 0.4620"}]},"encoding":{"y":{"datum":8.0,"axis":{"values":[0,2,4,6,8],"title":"Peak area to PCV"}}},"layer":[
     {"mark":{"type":"rule","color":"#888","strokeWidth":0.8},"encoding":{"x2":{"field":"c2"}}},
     {"mark":{"type":"text","baseline":"bottom","dy":-1,"fontSize":6},"encoding":{"x":{"field":"m","type":"ordinal","scale":{"type":"band","domain":[1,2,3,4,5,6,7,8,9,10,11,12,13,14,15,16,17,18,19,20,21,22,23,24],"paddingInner":0.3,"paddingOuter":0.2},"axis":{"labels":false,"domain":false,"ticks":true,"title":null}},"text":{"field":"p"}}}]},
   {"data":{"values":[{"c":13,"c2":21,"m":17,"p":"P = 0.4422"}]},"encoding":{"y":{"datum":9.0,"axis":{"values":[0,2,4,6,8],"title":"Peak area to PCV"}}},"layer":[
     {"mark":{"type":"rule","color":"#888","strokeWidth":0.8},"encoding":{"x2":{"field":"c2"}}},
     {"mark":{"type":"text","baseline":"bottom","dy":-1,"fontSize":6},"encoding":{"x":{"field":"m","type":"ordinal","scale":{"type":"band","domain":[1,2,3,4,5,6,7,8,9,10,11,12,13,14,15,16,17,18,19,20,21,22,23,24],"paddingInner":0.3,"paddingOuter":0.2},"axis":{"labels":false,"domain":false,"ticks":true,"title":null}},"text":{"field":"p"}}}]},
   {"data":{"values":[{"c":12,"t":"dTMP"}]},"mark":{"type":"text","fontSize":8},
    "encoding":{"x":{"field":"c","type":"ordinal","scale":{"type":"band","domain":[1,2,3,4,5,6,7,8,9,10,11,12,13,14,15,16,17,18,19,20,21,22,23,24],"paddingInner":0.3,"paddingOuter":0.2},"bandPosition":1.21,"axis":{"labels":false,"domain":false,"ticks":true,"title":null}},"y":{"datum":10.35,"axis":{"values":[0,2,4,6,8],"title":"Peak area to PCV"}},"text":{"field":"t"}}},
   {"data":{"values":[{"c":13}]},"mark":{"type":"rule","strokeDash":[3,2],"color":"#888","strokeWidth":0.7},
    "encoding":{"x":{"field":"c","type":"ordinal","scale":{"type":"band","domain":[1,2,3,4,5,6,7,8,9,10,11,12,13,14,15,16,17,18,19,20,21,22,23,24],"paddingInner":0.3,"paddingOuter":0.2},"bandPosition":-0.21,"axis":{"labels":false,"domain":false,"ticks":true,"title":null}},"y":{"datum":8,"axis":{"values":[0,2,4,6,8],"title":"Peak area to PCV"}},"y2":{"datum":0}}}
  ]},
  {"width":166,"height":42,"layer":[
   {"data":{"name":"cAn"},"mark":{"type":"text","fontSize":7.5},"encoding":{"x":{"field":"k","type":"ordinal","scale":{"type":"band","domain":["1a","1b","2a","2b","3a","3b","4a","4b","5a","5b","6a","6b"],"paddingInner":0.3,"paddingOuter":0.6},"bandPosition":1.21,"axis":null},"y":{"datum":8,"type":"quantitative","scale":{"domain":[0,42],"reverse":true,"nice":false,"zero":false},"axis":{"orient":"right","values":[8,21],"labelExpr":"datum.value < 12 ? 'TH9619' : 'TH9975'","domain":false,"ticks":false,"title":null,"labelFontSize":8,"labelPadding":12}},"text":{"field":"t1"}}},
   {"data":{"name":"cAn"},"mark":{"type":"text","fontSize":7.5},"encoding":{"x":{"field":"k","type":"ordinal","scale":{"type":"band","domain":["1a","1b","2a","2b","3a","3b","4a","4b","5a","5b","6a","6b"],"paddingInner":0.3,"paddingOuter":0.6},"bandPosition":1.21,"axis":null},"y":{"datum":21},"text":{"field":"t2"}}},
   {"data":{"name":"cW"},"mark":{"type":"rule","color":"#888","strokeWidth":0.8},"encoding":{"x":{"field":"s","type":"ordinal","scale":{"type":"band","domain":["1a","1b","2a","2b","3a","3b","4a","4b","5a","5b","6a","6b"],"paddingInner":0.3,"paddingOuter":0.6},"axis":null},"x2":{"field":"e"},"y":{"datum":28}}},
   {"data":{"name":"cW"},"transform":[{"filter":"datum.g == 'WT'"}],"mark":{"type":"text","fontSize":8},"encoding":{"x":{"field":"m","type":"ordinal","scale":{"type":"band","domain":["1a","1b","2a","2b","3a","3b","4a","4b","5a","5b","6a","6b"],"paddingInner":0.3,"paddingOuter":0.6},"bandPosition":1.21,"axis":null},"y":{"datum":36},"text":{"field":"g"}}},
   {"data":{"name":"cW"},"transform":[{"filter":"datum.g != 'WT'"}],"mark":{"type":"text","fontSize":8,"fontStyle":"italic"},"encoding":{"x":{"field":"m","type":"ordinal","scale":{"type":"band","domain":["1a","1b","2a","2b","3a","3b","4a","4b","5a","5b","6a","6b"],"paddingInner":0.3,"paddingOuter":0.6},"bandPosition":1.21,"axis":null},"y":{"datum":36},"text":{"field":"g"}}}
  ]},
  {"width":252,"height":56,"layer":[
   {"data":{"name":"c24"},"mark":{"type":"text","fontSize":7.5},"encoding":{"x":{"field":"c","type":"ordinal","scale":{"type":"band","domain":[1,2,3,4,5,6,7,8,9,10,11,12,13,14,15,16,17,18,19,20,21,22,23,24],"paddingInner":0.3,"paddingOuter":0.2},"axis":null},"y":{"datum":8,"type":"quantitative","scale":{"domain":[0,56],"reverse":true,"nice":false,"zero":false},"axis":{"orient":"right","values":[8,19],"labelExpr":"datum.value < 12 ? 'HX' : 'Thy'","domain":false,"ticks":false,"title":null,"labelFontSize":8,"labelPadding":4}},"text":{"field":"hx"}}},
   {"data":{"name":"c24"},"mark":{"type":"text","fontSize":7.5},"encoding":{"x":{"field":"c","type":"ordinal","scale":{"type":"band","domain":[1,2,3,4,5,6,7,8,9,10,11,12,13,14,15,16,17,18,19,20,21,22,23,24],"paddingInner":0.3,"paddingOuter":0.2},"axis":null},"y":{"datum":19},"text":{"field":"thy"}}},
   {"data":{"name":"g24"},"mark":{"type":"rule","color":"#888","strokeWidth":0.8},"encoding":{"x":{"field":"s","type":"ordinal","scale":{"type":"band","domain":[1,2,3,4,5,6,7,8,9,10,11,12,13,14,15,16,17,18,19,20,21,22,23,24],"paddingInner":0.3,"paddingOuter":0.2},"axis":null},"x2":{"field":"e"},"y":{"datum":27}}},
   {"data":{"name":"g24"},"mark":{"type":"text","fontSize":8},"encoding":{"x":{"field":"m","type":"ordinal","scale":{"type":"band","domain":[1,2,3,4,5,6,7,8,9,10,11,12,13,14,15,16,17,18,19,20,21,22,23,24],"paddingInner":0.3,"paddingOuter":0.2},"bandPosition":1.21,"axis":null},"y":{"datum":35},"text":{"field":"g"}}},
   {"data":{"name":"w24"},"mark":{"type":"rule","color":"#333","strokeWidth":0.8},"encoding":{"x":{"field":"s","type":"ordinal","scale":{"type":"band","domain":[1,2,3,4,5,6,7,8,9,10,11,12,13,14,15,16,17,18,19,20,21,22,23,24],"paddingInner":0.3,"paddingOuter":0.2},"axis":null},"x2":{"field":"e"},"y":{"datum":43}}},
   {"data":{"name":"w24"},"transform":[{"filter":"datum.g == 'WT'"}],"mark":{"type":"text","fontSize":8},"encoding":{"x":{"field":"m","type":"ordinal","scale":{"type":"band","domain":[1,2,3,4,5,6,7,8,9,10,11,12,13,14,15,16,17,18,19,20,21,22,23,24],"paddingInner":0.3,"paddingOuter":0.2},"bandPosition":1.21,"axis":null},"y":{"datum":51},"text":{"field":"g"}}},
   {"data":{"name":"w24"},"transform":[{"filter":"datum.g != 'WT'"}],"mark":{"type":"text","fontSize":8,"fontStyle":"italic"},"encoding":{"x":{"field":"m","type":"ordinal","scale":{"type":"band","domain":[1,2,3,4,5,6,7,8,9,10,11,12,13,14,15,16,17,18,19,20,21,22,23,24],"paddingInner":0.3,"paddingOuter":0.2},"bandPosition":1.21,"axis":null},"y":{"datum":51},"text":{"field":"g"}}}
  ]}
]},
{"columns":2,"bounds":"flush","spacing":{"row":2,"column":99},"resolve":{"scale":{"color":"independent"},"legend":{"color":"independent"}},
"concat":[
  {"width":266,"height":85,"title":{"text":"e","offset":3},
   "encoding":{"x":{"field":"c","type":"ordinal","scale":{"type":"band","domain":[1,2,3,4,5,6,7,8,9,10,11,12,13,14,15,16,17,18,19,20,21,22,23,24],"paddingInner":0.15,"paddingOuter":0.3},"axis":{"labels":false,"domain":false,"ticks":true,"title":null}}},
   "layer":[
   {"data":{"name":"eS"},"transform":[{"fold":["m0","m1"],"as":["k","v"]}],
    "mark":{"type":"bar","stroke":"#444","strokeWidth":0.5},
    "encoding":{
     "y":{"field":"v","type":"quantitative","stack":"zero","scale":{"domain":[0,1.4],"nice":false},"axis":{"values":[0,0.2,0.4,0.6,0.8,1,1.2,1.4],"labelExpr":"datum.value == 0 ? '0' : format(datum.value, '.1f')","title":["Relative enrichment from","[U-¹³C]Serine"]}},
     "color":{"field":"k","type":"nominal","scale":{"domain":["m1","m0"],"range":["#fde3c8","#000000"]},"legend":{"title":"dTMP","orient":"none","legendX":274,"legendY":12,"labelExpr":"'M + ' + substring(datum.label, 1)","symbolType":"square","symbolSize":150,"symbolStrokeColor":"#555","symbolStrokeWidth":0.8,"symbolOpacity":1,"rowPadding":0,"labelFontSize":8.5,"titleFontSize":8.5,"titlePadding":3}},
     "order":{"field":"k","sort":"ascending"}}},
   {"data":{"name":"eS"},"mark":{"type":"rule","color":"#111","strokeWidth":0.7},
    "encoding":{"y":{"field":"hi","type":"quantitative","axis":{"values":[0,0.2,0.4,0.6,0.8,1,1.2,1.4],"labelExpr":"datum.value == 0 ? '0' : format(datum.value, '.1f')","title":["Relative enrichment from","[U-¹³C]Serine"]}},"y2":{"datum":1}}},
   {"data":{"name":"eS"},"mark":{"type":"tick","color":"#111","thickness":0.7,"size":4},
    "encoding":{"y":{"field":"hi","type":"quantitative","axis":{"values":[0,0.2,0.4,0.6,0.8,1,1.2,1.4],"labelExpr":"datum.value == 0 ? '0' : format(datum.value, '.1f')","title":["Relative enrichment from","[U-¹³C]Serine"]}}}},
   {"data":{"name":"eS"},"mark":{"type":"rule","color":"#111","strokeWidth":0.7},
    "encoding":{"y":{"field":"h0","type":"quantitative","axis":{"values":[0,0.2,0.4,0.6,0.8,1,1.2,1.4],"labelExpr":"datum.value == 0 ? '0' : format(datum.value, '.1f')","title":["Relative enrichment from","[U-¹³C]Serine"]}},"y2":{"field":"m0"}}},
   {"data":{"name":"eS"},"mark":{"type":"tick","color":"#111","thickness":0.7,"size":4},
    "encoding":{"y":{"field":"h0","type":"quantitative","axis":{"values":[0,0.2,0.4,0.6,0.8,1,1.2,1.4],"labelExpr":"datum.value == 0 ? '0' : format(datum.value, '.1f')","title":["Relative enrichment from","[U-¹³C]Serine"]}}}},
   {"data":{"name":"ePv"},"mark":{"type":"text","angle":270,"align":"left","baseline":"middle","fontSize":5.5},
    "encoding":{"y":{"datum":1.44,"axis":{"values":[0,0.2,0.4,0.6,0.8,1,1.2,1.4],"labelExpr":"datum.value == 0 ? '0' : format(datum.value, '.1f')","title":["Relative enrichment from","[U-¹³C]Serine"]}},"text":{"field":"p"}}},
   {"data":{"values":[{"c":13}]},"mark":{"type":"rule","strokeDash":[3,2],"color":"#888","strokeWidth":0.7},
    "encoding":{"x":{"field":"c","type":"ordinal","scale":{"type":"band","domain":[1,2,3,4,5,6,7,8,9,10,11,12,13,14,15,16,17,18,19,20,21,22,23,24],"paddingInner":0.15,"paddingOuter":0.3},"bandPosition":-0.09,"axis":{"labels":false,"domain":false,"ticks":true,"title":null}},"y":{"datum":1.4,"axis":{"values":[0,0.2,0.4,0.6,0.8,1,1.2,1.4],"labelExpr":"datum.value == 0 ? '0' : format(datum.value, '.1f')","title":["Relative enrichment from","[U-¹³C]Serine"]}},"y2":{"datum":0}}}
  ]},
  {"width":250,"height":85,"title":{"text":"f","offset":-4},
   "encoding":{"x":{"field":"c","type":"ordinal","scale":{"type":"band","domain":[1,2,3,4,5,6,7,8,9,10,11,12,13,14,15,16,17,18,19,20,21,22,23,24],"paddingInner":0.22,"paddingOuter":0.3},"axis":{"labels":false,"domain":false,"ticks":true,"title":null}}},
   "layer":[
   {"data":{"name":"fP"},"mark":{"type":"bar","stroke":"#333","strokeWidth":0.6},
    "encoding":{
     "y":{"aggregate":"mean","field":"v","type":"quantitative","scale":{"domain":[0,300],"nice":false},"axis":{"values":[0,100,200,300],"title":"Peak area to PCV"}},
     "color":{"field":"g","type":"nominal","scale":{"domain":["WT","KO"],"range":["#d4d4d4","#8ab8ef"]},"legend":null}}},
   {"data":{"name":"fP"},"mark":{"type":"errorbar","extent":"stdev","ticks":{"size":4},"color":"#111","thickness":0.7},
    "encoding":{"y":{"field":"v","type":"quantitative","axis":{"values":[0,100,200,300],"title":"Peak area to PCV"}}}},
   {"data":{"name":"fP"},"mark":{"type":"circle","size":14,"color":"#000","opacity":1},
    "encoding":{"y":{"field":"v","type":"quantitative","axis":{"values":[0,100,200,300],"title":"Peak area to PCV"}}}},
   {"data":{"name":"fPv"},"mark":{"type":"text","angle":270,"align":"left","baseline":"middle","fontSize":5.5},
    "encoding":{"y":{"datum":262,"axis":{"values":[0,100,200,300],"title":"Peak area to PCV"}},"text":{"field":"p"}}},
   {"data":{"values":[{"c":12,"t":"dUMP"}]},"mark":{"type":"text","fontSize":8},
    "encoding":{"x":{"field":"c","type":"ordinal","scale":{"type":"band","domain":[1,2,3,4,5,6,7,8,9,10,11,12,13,14,15,16,17,18,19,20,21,22,23,24],"paddingInner":0.22,"paddingOuter":0.3},"bandPosition":1.14,"axis":{"labels":false,"domain":false,"ticks":true,"title":null}},"y":{"datum":420,"axis":{"values":[0,100,200,300],"title":"Peak area to PCV"}},"text":{"field":"t"}}},
   {"data":{"values":[{"c":13}]},"mark":{"type":"rule","strokeDash":[3,2],"color":"#888","strokeWidth":0.7},
    "encoding":{"x":{"field":"c","type":"ordinal","scale":{"type":"band","domain":[1,2,3,4,5,6,7,8,9,10,11,12,13,14,15,16,17,18,19,20,21,22,23,24],"paddingInner":0.22,"paddingOuter":0.3},"bandPosition":-0.14,"axis":{"labels":false,"domain":false,"ticks":true,"title":null}},"y":{"datum":300,"axis":{"values":[0,100,200,300],"title":"Peak area to PCV"}},"y2":{"datum":0}}}
  ]},
  {"width":266,"height":54,"layer":[
   {"data":{"name":"c24"},"mark":{"type":"text","fontSize":7.5},"encoding":{"x":{"field":"c","type":"ordinal","scale":{"type":"band","domain":[1,2,3,4,5,6,7,8,9,10,11,12,13,14,15,16,17,18,19,20,21,22,23,24],"paddingInner":0.15,"paddingOuter":0.3},"axis":null},"y":{"datum":8,"type":"quantitative","scale":{"domain":[0,54],"reverse":true,"nice":false,"zero":false},"axis":{"orient":"right","values":[8,18],"labelExpr":"datum.value < 12 ? 'HX' : 'Thy'","domain":false,"ticks":false,"title":null,"labelFontSize":8,"labelPadding":5}},"text":{"field":"hx"}}},
   {"data":{"name":"c24"},"mark":{"type":"text","fontSize":7.5},"encoding":{"x":{"field":"c","type":"ordinal","scale":{"type":"band","domain":[1,2,3,4,5,6,7,8,9,10,11,12,13,14,15,16,17,18,19,20,21,22,23,24],"paddingInner":0.15,"paddingOuter":0.3},"axis":null},"y":{"datum":18},"text":{"field":"thy"}}},
   {"data":{"name":"g24"},"mark":{"type":"rule","color":"#888","strokeWidth":0.8},"encoding":{"x":{"field":"s","type":"ordinal","scale":{"type":"band","domain":[1,2,3,4,5,6,7,8,9,10,11,12,13,14,15,16,17,18,19,20,21,22,23,24],"paddingInner":0.15,"paddingOuter":0.3},"axis":null},"x2":{"field":"e"},"y":{"datum":26}}},
   {"data":{"name":"g24"},"mark":{"type":"text","fontSize":8},"encoding":{"x":{"field":"m","type":"ordinal","scale":{"type":"band","domain":[1,2,3,4,5,6,7,8,9,10,11,12,13,14,15,16,17,18,19,20,21,22,23,24],"paddingInner":0.15,"paddingOuter":0.3},"bandPosition":1.09,"axis":null},"y":{"datum":35},"text":{"field":"g"}}},
   {"data":{"name":"w24"},"mark":{"type":"rule","color":"#333","strokeWidth":0.8},"encoding":{"x":{"field":"s","type":"ordinal","scale":{"type":"band","domain":[1,2,3,4,5,6,7,8,9,10,11,12,13,14,15,16,17,18,19,20,21,22,23,24],"paddingInner":0.15,"paddingOuter":0.3},"axis":null},"x2":{"field":"e"},"y":{"datum":42}}},
   {"data":{"name":"w24"},"transform":[{"filter":"datum.g == 'WT'"}],"mark":{"type":"text","fontSize":8},"encoding":{"x":{"field":"m","type":"ordinal","scale":{"type":"band","domain":[1,2,3,4,5,6,7,8,9,10,11,12,13,14,15,16,17,18,19,20,21,22,23,24],"paddingInner":0.15,"paddingOuter":0.3},"bandPosition":1.09,"axis":null},"y":{"datum":50.5},"text":{"field":"g"}}},
   {"data":{"name":"w24"},"transform":[{"filter":"datum.g != 'WT'"}],"mark":{"type":"text","fontSize":8,"fontStyle":"italic"},"encoding":{"x":{"field":"m","type":"ordinal","scale":{"type":"band","domain":[1,2,3,4,5,6,7,8,9,10,11,12,13,14,15,16,17,18,19,20,21,22,23,24],"paddingInner":0.15,"paddingOuter":0.3},"bandPosition":1.09,"axis":null},"y":{"datum":50.5},"text":{"field":"g"}}}
  ]},
  {"width":250,"height":54,"layer":[
   {"data":{"name":"c24"},"mark":{"type":"text","fontSize":7.5},"encoding":{"x":{"field":"c","type":"ordinal","scale":{"type":"band","domain":[1,2,3,4,5,6,7,8,9,10,11,12,13,14,15,16,17,18,19,20,21,22,23,24],"paddingInner":0.22,"paddingOuter":0.3},"axis":null},"y":{"datum":7,"type":"quantitative","scale":{"domain":[0,54],"reverse":true,"nice":false,"zero":false},"axis":{"orient":"right","values":[7,19],"labelExpr":"datum.value < 12 ? 'HX' : 'Thy'","domain":false,"ticks":false,"title":null,"labelFontSize":8,"labelPadding":12}},"text":{"field":"hx"}}},
   {"data":{"name":"c24"},"mark":{"type":"text","fontSize":7.5},"encoding":{"x":{"field":"c","type":"ordinal","scale":{"type":"band","domain":[1,2,3,4,5,6,7,8,9,10,11,12,13,14,15,16,17,18,19,20,21,22,23,24],"paddingInner":0.22,"paddingOuter":0.3},"axis":null},"y":{"datum":19},"text":{"field":"thy"}}},
   {"data":{"name":"g24"},"mark":{"type":"rule","color":"#888","strokeWidth":1.5},"encoding":{"x":{"field":"s","type":"ordinal","scale":{"type":"band","domain":[1,2,3,4,5,6,7,8,9,10,11,12,13,14,15,16,17,18,19,20,21,22,23,24],"paddingInner":0.22,"paddingOuter":0.3},"axis":null},"x2":{"field":"e"},"y":{"datum":27}}},
   {"data":{"name":"g24"},"mark":{"type":"text","fontSize":8},"encoding":{"x":{"field":"m","type":"ordinal","scale":{"type":"band","domain":[1,2,3,4,5,6,7,8,9,10,11,12,13,14,15,16,17,18,19,20,21,22,23,24],"paddingInner":0.22,"paddingOuter":0.3},"bandPosition":1.14,"axis":null},"y":{"datum":36},"text":{"field":"g"}}},
   {"data":{"name":"w24"},"mark":{"type":"rule","color":"#333","strokeWidth":0.8},"encoding":{"x":{"field":"s","type":"ordinal","scale":{"type":"band","domain":[1,2,3,4,5,6,7,8,9,10,11,12,13,14,15,16,17,18,19,20,21,22,23,24],"paddingInner":0.22,"paddingOuter":0.3},"axis":null},"x2":{"field":"e"},"y":{"datum":43}}},
   {"data":{"name":"w24"},"transform":[{"filter":"datum.g == 'WT'"}],"mark":{"type":"text","fontSize":8},"encoding":{"x":{"field":"m","type":"ordinal","scale":{"type":"band","domain":[1,2,3,4,5,6,7,8,9,10,11,12,13,14,15,16,17,18,19,20,21,22,23,24],"paddingInner":0.22,"paddingOuter":0.3},"bandPosition":1.14,"axis":null},"y":{"datum":51.5},"text":{"field":"g"}}},
   {"data":{"name":"w24"},"transform":[{"filter":"datum.g != 'WT'"}],"mark":{"type":"text","fontSize":8,"fontStyle":"italic"},"encoding":{"x":{"field":"m","type":"ordinal","scale":{"type":"band","domain":[1,2,3,4,5,6,7,8,9,10,11,12,13,14,15,16,17,18,19,20,21,22,23,24],"paddingInner":0.22,"paddingOuter":0.3},"bandPosition":1.14,"axis":null},"y":{"datum":51.5},"text":{"field":"g"}}}
  ]}
]}
]
}
